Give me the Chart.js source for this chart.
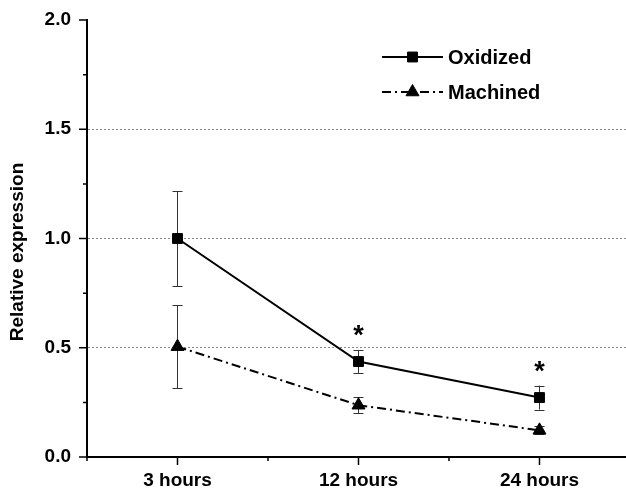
<!DOCTYPE html>
<html lang="en">
<head>
    <meta charset="UTF-8">
    <title>Relative expression</title>
    <script src="https://cdn.jsdelivr.net/npm/chart.js"></script>
    <style>
        html, body {
            margin: 0;
            padding: 0;
            background: #fff;
        }
        #wrap {
            width: 626px;
            height: 492px;
        }
    </style>
</head>
<body>

<div id="wrap"><canvas id="exprChart" width="626" height="492"></canvas></div>

<script>
    // values
    const categories = ['3 hours', '12 hours', '24 hours'];
    const oxidized = [1.0, 0.437, 0.272];
    const oxidizedErr = [0.217, 0.053, 0.055];
    const machined = [0.505, 0.237, 0.122];
    const machinedErr = [0.19, 0.036, 0.018];
    const significant = [false, true, true];   // asterisk over Oxidized
    const yTickValues = [0, 0.25, 0.5, 0.75, 1.0, 1.25, 1.5, 1.75, 2.0];
    const xTickValues = [-0.5, 0, 0.5, 1, 1.5, 2];

    const FONT = "'Liberation Sans', Arial, sans-serif";

    function toPoints(arr) {
        return arr.map((v, i) => ({ x: i, y: v }));
    }

    // error bars, drawn under the lines
    const errorBars = {
        id: 'errorBars',
        beforeDatasetsDraw(chart) {
            const ctx = chart.ctx;
            const xs = chart.scales.x, ys = chart.scales.y;
            ctx.save();
            ctx.strokeStyle = '#333';
            ctx.lineWidth = 1;
            chart.data.datasets.forEach(ds => {
                ds.data.forEach((p, i) => {
                    const e = ds.errors[i];
                    const x = Math.round(xs.getPixelForValue(p.x)) + 0.5;
                    const top = ys.getPixelForValue(p.y + e);
                    const bot = ys.getPixelForValue(p.y - e);
                    ctx.beginPath();
                    ctx.moveTo(x, top); ctx.lineTo(x, bot);
                    ctx.moveTo(x - 5, Math.round(top) + 0.5); ctx.lineTo(x + 5, Math.round(top) + 0.5);
                    ctx.moveTo(x - 5, Math.round(bot) + 0.5); ctx.lineTo(x + 5, Math.round(bot) + 0.5);
                    ctx.stroke();
                });
            });
            ctx.restore();
        }
    };

    // tick marks, axis title, asterisks and legend
    const extras = {
        id: 'extras',
        afterDraw(chart) {
            const ctx = chart.ctx;
            const xs = chart.scales.x, ys = chart.scales.y;
            const area = chart.chartArea;
            ctx.save();

            // tick marks (major longer than minor)
            ctx.strokeStyle = '#000';
            ctx.lineWidth = 1.5;
            ctx.beginPath();
            yTickValues.forEach(v => {
                const y = ys.getPixelForValue(v);
                const len = (Math.round(v * 100) % 50 === 0) ? 8 : 4;
                ctx.moveTo(area.left - len, y);
                ctx.lineTo(area.left, y);
            });
            xTickValues.forEach(v => {
                const x = xs.getPixelForValue(v);
                const len = Number.isInteger(v) ? 8 : 4;
                ctx.moveTo(x, area.bottom);
                ctx.lineTo(x, area.bottom + len);
            });
            ctx.stroke();

            // y axis title
            ctx.save();
            ctx.translate(18, 252);
            ctx.rotate(-Math.PI / 2);
            ctx.fillStyle = '#000';
            ctx.font = 'bold 19px ' + FONT;
            ctx.textAlign = 'center';
            ctx.textBaseline = 'middle';
            ctx.fillText('Relative expression', 0, 0);
            ctx.restore();

            // significance asterisks
            ctx.fillStyle = '#000';
            ctx.font = 'bold 27px ' + FONT;
            ctx.textAlign = 'center';
            ctx.textBaseline = 'alphabetic';
            significant.forEach((s, i) => {
                if (!s) return;
                const x = xs.getPixelForValue(i);
                const y = ys.getPixelForValue(oxidized[i] + oxidizedErr[i] + 0.1);
                ctx.fillText('*', x, y + 16);
            });

            // legend
            const items = [
                { label: 'Oxidized', dash: [], style: 'rect', r: 7, y: 57 },
                { label: 'Machined', dash: [9, 4, 2, 4], style: 'triangle', r: 7.5, y: 92 }
            ];
            const lx0 = area.left + 295, lx1 = area.left + 356;
            items.forEach(it => {
                ctx.strokeStyle = '#000';
                ctx.lineWidth = 2;
                ctx.setLineDash(it.dash);
                ctx.beginPath();
                ctx.moveTo(lx0, it.y);
                ctx.lineTo(lx1, it.y);
                ctx.stroke();
                ctx.setLineDash([]);
                ctx.fillStyle = '#000';
                ctx.lineWidth = 1;
                Chart.helpers.drawPoint(ctx, { pointStyle: it.style, radius: it.r, rotation: 0, borderWidth: 1 }, (lx0 + lx1) / 2, it.y);
                ctx.fillStyle = '#000';
                ctx.font = 'bold 20px ' + FONT;
                ctx.textAlign = 'left';
                ctx.textBaseline = 'middle';
                ctx.fillText(it.label, lx1 + 5, it.y + 1);
            });

            ctx.restore();
        }
    };

    const ctx = document.getElementById('exprChart').getContext('2d');
    new Chart(ctx, {
        type: 'line',
        data: {
            datasets: [{
                label: 'Oxidized',
                data: toPoints(oxidized),
                errors: oxidizedErr,
                borderColor: '#000',
                backgroundColor: '#000',
                borderWidth: 2,
                pointStyle: 'rect',
                pointRadius: 7,
                pointBorderWidth: 1,
                tension: 0
            }, {
                label: 'Machined',
                data: toPoints(machined),
                errors: machinedErr,
                borderColor: '#000',
                backgroundColor: '#000',
                borderWidth: 2,
                borderDash: [9, 4, 2, 4],
                pointStyle: 'triangle',
                pointRadius: 7.5,
                pointBorderWidth: 1,
                tension: 0
            }]
        },
        options: {
            responsive: false,
            animation: false,
            layout: {
                autoPadding: false,
                padding: { top: 20, left: 0, right: 0, bottom: 0 }
            },
            plugins: {
                legend: { display: false },
                tooltip: { enabled: false }
            },
            scales: {
                x: {
                    type: 'linear',
                    min: -0.5,
                    max: 2.478,
                    afterFit: scale => {
                        scale.height = 35;
                        scale.paddingLeft = 0;
                        scale.paddingRight = 0;
                    },
                    afterBuildTicks: scale => {
                        scale.ticks = xTickValues.map(v => ({ value: v }));
                    },
                    grid: { display: false, drawTicks: false },
                    border: { display: true, color: '#000', width: 2 },
                    ticks: {
                        autoSkip: false,
                        maxRotation: 0,
                        padding: 12,
                        color: '#000',
                        font: { family: FONT, size: 19, weight: 'bold' },
                        callback: v => Number.isInteger(v) ? categories[v] : ''
                    }
                },
                y: {
                    min: 0,
                    max: 2,
                    afterFit: scale => {
                        scale.width = 87;
                        scale.paddingTop = 0;
                        scale.paddingBottom = 0;
                    },
                    afterBuildTicks: scale => {
                        scale.ticks = yTickValues.map(v => ({ value: v }));
                    },
                    grid: {
                        drawTicks: false,
                        lineWidth: 1,
                        color: c => (c.tick && c.tick.value > 0 && c.tick.value < 2 &&
                            Math.round(c.tick.value * 100) % 50 === 0) ? '#8a8a8a' : 'rgba(0,0,0,0)'
                    },
                    border: { display: true, color: '#000', width: 2, dash: [2, 2] },
                    ticks: {
                        autoSkip: false,
                        padding: 16,
                        color: '#000',
                        font: { family: FONT, size: 19, weight: 'bold' },
                        callback: v => (Math.round(v * 100) % 50 === 0) ? v.toFixed(1) : ''
                    }
                }
            }
        },
        plugins: [errorBars, extras]
    });
</script>

</body>
</html>
